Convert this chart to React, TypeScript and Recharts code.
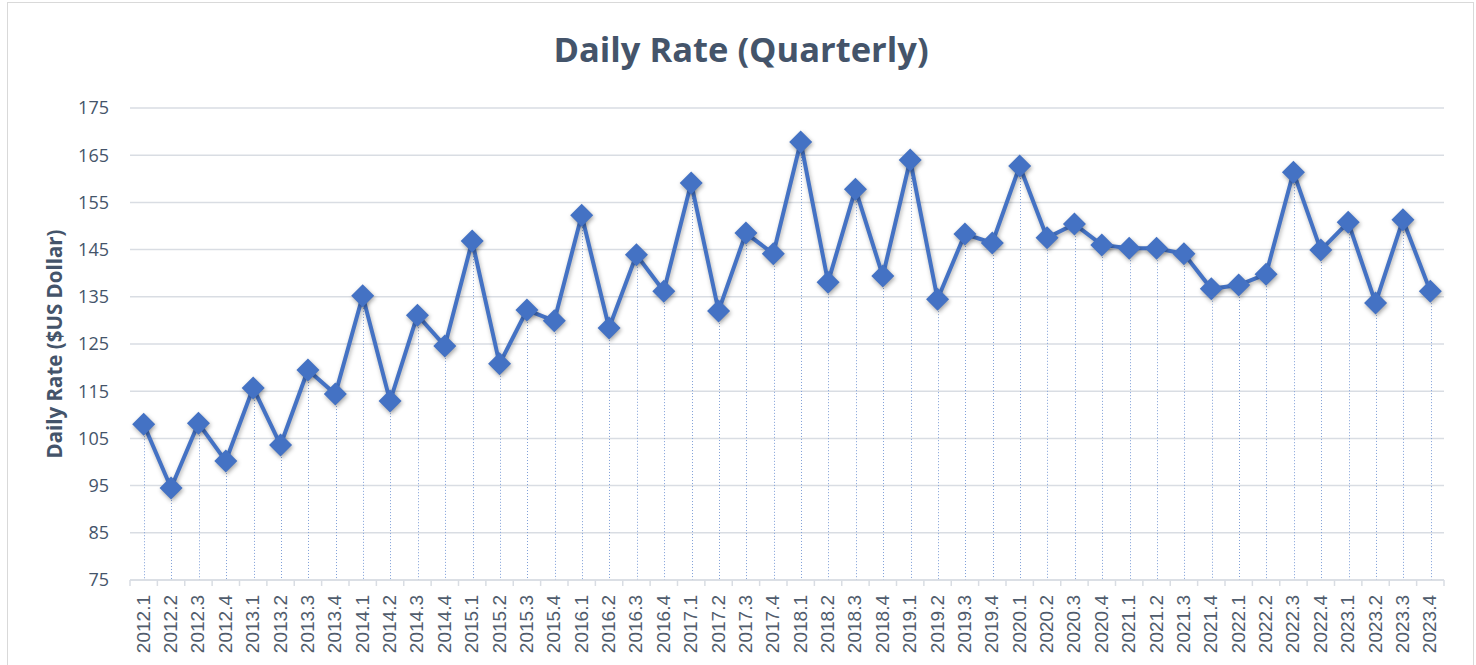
import React from "react"
import { Bar, CartesianGrid, ComposedChart, Line, XAxis, YAxis } from "recharts"

const quarters = [
  "2012.1", "2012.2", "2012.3", "2012.4",
  "2013.1", "2013.2", "2013.3", "2013.4",
  "2014.1", "2014.2", "2014.3", "2014.4",
  "2015.1", "2015.2", "2015.3", "2015.4",
  "2016.1", "2016.2", "2016.3", "2016.4",
  "2017.1", "2017.2", "2017.3", "2017.4",
  "2018.1", "2018.2", "2018.3", "2018.4",
  "2019.1", "2019.2", "2019.3", "2019.4",
  "2020.1", "2020.2", "2020.3", "2020.4",
  "2021.1", "2021.2", "2021.3", "2021.4",
  "2022.1", "2022.2", "2022.3", "2022.4",
  "2023.1", "2023.2", "2023.3", "2023.4",
]

const dailyRate = [
  108.0, 94.5, 108.2, 100.2,
  115.7, 103.6, 119.5, 114.4,
  135.2, 112.9, 131.1, 124.6,
  146.8, 120.8, 132.2, 129.9,
  152.3, 128.4, 143.9, 136.2,
  159.1, 132.0, 148.5, 144.1,
  167.8, 138.1, 157.8, 139.4,
  164.0, 134.5, 148.3, 146.4,
  162.7, 147.5, 150.4, 146.0,
  145.3, 145.3, 144.1, 136.7,
  137.5, 139.8, 161.4, 144.9,
  150.8, 133.7, 151.3, 136.2,
]

const yTicks = [75, 85, 95, 105, 115, 125, 135, 145, 155, 165, 175]

const data = quarters.map((q, i) => ({ quarter: q, rate: dailyRate[i] }))

const BLUE = "#4472C4"
const TEXT = "#44546A"
const GRID = "#D9DDE3"

const WIDTH = 1476
const HEIGHT = 665
const MARGIN = { top: 108, right: 32, left: 0, bottom: 0 }
const Y_AXIS_W = 130
const X_AXIS_H = 85
const STEP = (WIDTH - MARGIN.left - MARGIN.right - Y_AXIS_W) / quarters.length

const Diamond = (props: any) => {
  const { cx, cy, index } = props
  if (cx == null || cy == null) return null
  const s = 11.5
  return (
    <polygon
      key={`d-${index}`}
      points={`${cx},${cy - s} ${cx + s},${cy} ${cx},${cy + s} ${cx - s},${cy}`}
      fill={BLUE}
      style={{ filter: "drop-shadow(1px 2px 2px rgba(0,0,0,0.35))" }}
    />
  )
}

// dotted drop line from the point down to the axis
const DropLine = (props: any) => {
  const { x, y, width, height } = props
  if (x == null || height == null) return null
  const mx = Math.round(x + width / 2) + 0.5
  return (
    <line x1={mx} x2={mx} y1={y} y2={y + height} stroke="#7F9FD8" strokeWidth={1} strokeDasharray="1 2" />
  )
}

const XTick = (props: any) => {
  const { x, y, payload, index } = props
  const last = index === quarters.length - 1
  return (
    <g>
      <line x1={x - STEP / 2} x2={x - STEP / 2} y1={y - 8} y2={y - 2} stroke={GRID} strokeWidth={1.5} />
      {last && <line x1={x + STEP / 2} x2={x + STEP / 2} y1={y - 8} y2={y - 2} stroke={GRID} strokeWidth={1.5} />}
      <text
        transform={`translate(${x + 6},${y + 7}) rotate(-90)`}
        textAnchor="end"
        fontFamily="'Liberation Sans', Arial, sans-serif"
        fontSize={19}
        fill="#505C6C"
      >
        {payload.value}
      </text>
    </g>
  )
}

const YLabel = (props: any) => {
  const { viewBox } = props
  const cx = viewBox.x + 62
  const cy = viewBox.y + viewBox.height / 2
  return (
    <text
      transform={`translate(${cx},${cy}) rotate(-90)`}
      textAnchor="middle"
      fontFamily="'Open Sans', sans-serif"
      fontWeight={700}
      fontSize={20.5}
      fill={TEXT}
    >
      Daily Rate ($US Dollar)
    </text>
  )
}

export default function App() {
  return (
    <div style={{ position: "absolute", left: 0, top: 0, width: WIDTH, height: HEIGHT, background: "#fff", overflow: "hidden" }}>
      <style>{`.recharts-line-curve { filter: drop-shadow(1px 2px 2px rgba(0,0,0,0.3)); }`}</style>
      <div
        style={{
          position: "absolute",
          left: 7,
          top: 2,
          width: 1465,
          height: 700,
          border: "1px solid #D9D9D9",
        }}
      />
      <div
        style={{
          position: "absolute",
          left: 0,
          width: 1482,
          top: 25,
          textAlign: "center",
          fontFamily: "'Open Sans', sans-serif",
          fontWeight: 700,
          fontSize: 34.5,
          color: TEXT,
          lineHeight: "48px",
        }}
      >
        Daily Rate (Quarterly)
      </div>
      <div style={{ position: "absolute", left: 0, top: 0 }}>
        <ComposedChart width={WIDTH} height={HEIGHT} data={data} margin={MARGIN}>
          <CartesianGrid vertical={false} stroke={GRID} strokeWidth={1.5} />
          <YAxis
            width={Y_AXIS_W}
            domain={[75, 175]}
            ticks={yTicks}
            interval={0}
            axisLine={false}
            tickLine={false}
            tickMargin={15}
            tick={{ fontSize: 18, fill: TEXT, fontFamily: "'Open Sans', sans-serif" }}
            label={<YLabel />}
          />
          <XAxis
            dataKey="quarter"
            height={X_AXIS_H}
            interval={0}
            tickLine={false}
            axisLine={{ stroke: GRID, strokeWidth: 1.5 }}
            tick={<XTick />}
          />
          <Bar dataKey="rate" barSize={2} shape={<DropLine />} isAnimationActive={false} />
          <Line
            dataKey="rate"
            stroke={BLUE}
            strokeWidth={4}
            dot={<Diamond />}
            activeDot={false}
            isAnimationActive={false}
          />
        </ComposedChart>
      </div>
    </div>
  )
}
